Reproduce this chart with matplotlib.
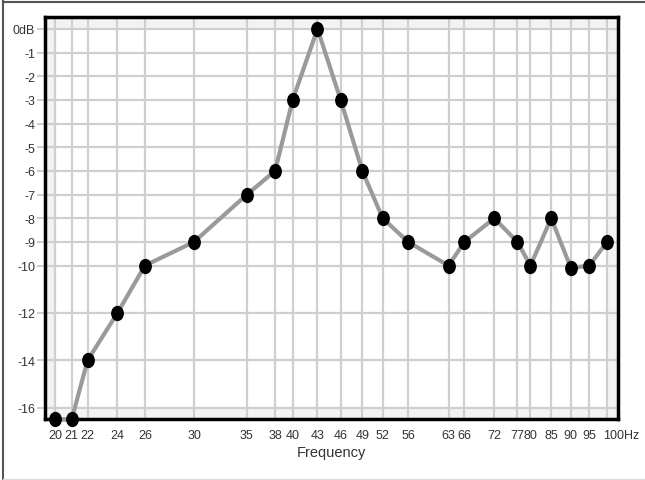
import numpy as np
import matplotlib
matplotlib.use('Agg')
import matplotlib.pyplot as plt
from matplotlib.path import Path
from matplotlib.lines import Line2D
from matplotlib.patches import Rectangle

freqs = [20, 21, 22, 24, 26, 30, 35, 38, 40, 43, 46, 49, 52, 56, 63, 66, 72, 77, 80, 85, 90, 95, 100]
levels = [-16.5, -16.5, -14, -12, -10, -9, -7, -6, -3, 0, -3, -6, -8, -9, -10, -9, -8, -9, -10, -8, -10.1, -10, -9]

x_ticks = freqs
x_labels = [str(f) for f in freqs[:-1]] + ['100Hz']
y_ticks = [0, -1, -2, -3, -4, -5, -6, -7, -8, -9, -10, -12, -14, -16]
y_labels = ['0dB'] + [str(v) for v in y_ticks[1:]]

plt.rcParams['font.family'] = ['Liberation Sans', 'DejaVu Sans']

fig = plt.figure(figsize=(6.45, 4.81), dpi=100)
W, H = 645, 481
ax = fig.add_axes([45 / W, 1 - 420 / H, (618 - 45) / W, (420 - 18) / H])

ax.set_xscale('log')
ax.set_xlim(19.43, 103.26)
ax.set_ylim(-16.48, 0.5)
ax.set_facecolor('#f3f3f3')
ax.add_patch(Rectangle((20, -16), 80, 16, facecolor='white', edgecolor='none', zorder=0))

ax.set_xticks(x_ticks)
ax.set_xticklabels(x_labels)
ax.xaxis.set_minor_locator(matplotlib.ticker.NullLocator())
ax.set_yticks(y_ticks)
ax.set_yticklabels(y_labels)
ax.tick_params(axis='x', length=0, labelsize=9, colors='#333333', pad=7)
ax.tick_params(axis='y', length=6, width=1.5, color='#cfcfcf', labelsize=9,
               labelcolor='#333333', pad=1)
ax.grid(True, color='#cfcfcf', linewidth=1.6, zorder=1)
ax.set_axisbelow(True)

# "100Hz": keep the number near its grid line, unit trailing to the right
last = ax.get_xticklabels()[-1]
last.set_horizontalalignment('left')
last.set_transform(last.get_transform() + matplotlib.transforms.ScaledTranslation(-4 / 100, 0, fig.dpi_scale_trans))

for s in ax.spines.values():
    s.set_linewidth(2.5)
    s.set_color('black')

ell = Path.unit_circle().transformed(matplotlib.transforms.Affine2D().scale(0.82, 1.0))
ax.plot(freqs, levels, color='#9a9a9a', linewidth=3, zorder=3, clip_on=False)
ax.plot(freqs, levels, linestyle='none', marker=ell, markersize=10,
        color='black', zorder=4, clip_on=False)

ax.set_xlabel('Frequency', fontsize=10.5, color='#333333', labelpad=3)

# outer frame of the picture
fig.add_artist(Line2D([2.5 / W, 2.5 / W], [0, 1 - 2 / H], color='#555555', linewidth=1.5))
fig.add_artist(Line2D([2.5 / W, 1], [1 - 2.5 / H, 1 - 2.5 / H], color='#555555', linewidth=1.5))
fig.add_artist(Line2D([2.5 / W, 1], [1 - 480 / H, 1 - 480 / H], color='#dddddd', linewidth=1))

fig.savefig('out.png', dpi=100)
